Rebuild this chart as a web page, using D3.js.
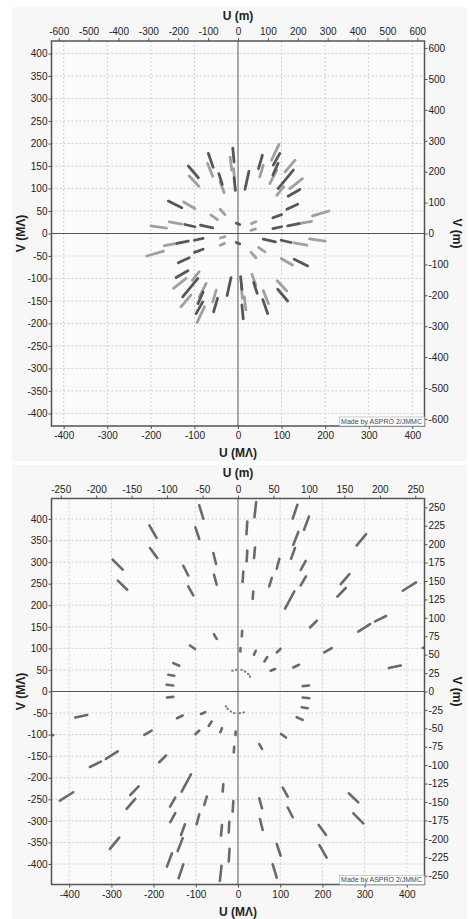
<!DOCTYPE html>
<html>
<head>
<meta charset="utf-8">
<script src="https://cdn.jsdelivr.net/npm/d3@7"></script>
<style>
  html, body { margin: 0; padding: 0; background: #fff; }
  svg { display: block; }
</style>
</head>
<body>
<svg id="chart" width="469" height="919"></svg>
<script>
// tick values, top panel
const topUmTicks = [-600, -500, -400, -300, -200, -100, 0, 100, 200, 300, 400, 500, 600]
const topVmTicks = [-600, -500, -400, -300, -200, -100, 0, 100, 200, 300, 400, 500, 600]
const topUmlTicks = [-400, -300, -200, -100, 0, 100, 200, 300, 400]
const topVmlTicks = [-400, -350, -300, -250, -200, -150, -100, -50, 0, 50, 100, 150, 200, 250, 300, 350, 400]

// tick values, bottom panel
const bottomUmTicks = [-250, -200, -150, -100, -50, 0, 50, 100, 150, 200, 250]
const bottomVmTicks = [-250, -225, -200, -175, -150, -125, -100, -75, -50, -25, 0, 25, 50, 75, 100, 125, 150, 175, 200, 225, 250]
const bottomUmlTicks = [-400, -300, -200, -100, 0, 100, 200, 300, 400]
const bottomVmlTicks = [-400, -350, -300, -250, -200, -150, -100, -50, 0, 50, 100, 150, 200, 250, 300, 350, 400]

// uv segments [u1, v1, u2, v2] in MΛ, one half of the plane.
// the conjugate baseline (-u, -v) is plotted as well, like ASPRO does
const topDarkSegments = [
  [-114, 150, -91, 124],
  [-68, 178, -57, 147],
  [-44, 133, -36, 109],
  [-12, 190, -9, 159],
  [-9, 124, -6, 96],
  [25, 138, 16, 98],
  [47, 144, 56, 174],
  [81, 152, 96, 178],
  [80, 130, 92, 156],
  [92, 100, 127, 141],
  [115, 83, 142, 98],
  [112, 54, 137, 65],
  [114, 17, 140, 22],
  [80, 35, 100, 42],
  [80, 11, 100, 15],
  [-4, 23, 4, 20],
  [-122, 20, -99, 15],
  [-86, 18.5, -58, 12.4],
  [-160, 72, -129, 57]
]

const topLightSegments = [
  [-112, 128, -90, 105],
  [-70, 156, -58, 127],
  [-41, 115, -32, 91],
  [-18, 170, -14.5, 141],
  [-10, 144, -7.6, 115],
  [50, 126, 58, 152],
  [77, 163, 94, 198],
  [73, 111, 89, 141],
  [108, 137, 131, 163],
  [89, 85, 105, 104],
  [119, 100, 148, 122],
  [171, 39, 209, 50],
  [140, 22, 169, 27],
  [31, 22, 41, 26],
  [30, 7, 40, 10],
  [-200, 17, -164, 12],
  [-158, 26, -129, 21],
  [-125, 70, -99, 55.5],
  [-62, 41, -47, 31],
  [-41, 54, -30, 42]
]

const bottomSegments = [
  [-91.8, 431.6, -82.3, 400.7],
  [-101, 380.5, -91.8, 353.6],
  [-210, 385, -193, 356],
  [-208.7, 332.7, -191.3, 309.5],
  [-297, 305.6, -273.4, 282.4],
  [-285, 257, -262.5, 236],
  [-58.5, 321, -52, 295.6],
  [-57, 270.8, -50.5, 247.6],
  [-129.7, 291.6, -117.9, 269],
  [-117.9, 243.6, -106, 222.7],
  [-57, 133, -50.5, 122],
  [-113.8, 106.7, -102, 98.4],
  [-153.4, 65.9, -139.2, 59.6],
  [-165.3, 38.7, -151, 36.4],
  [-169, 15.5, -153.4, 14],
  [43, 439, 39, 404],
  [140.7, 433, 129.7, 401],
  [168.4, 406, 156.5, 375],
  [22, 394, 20, 365],
  [143, 370, 131, 340],
  [135, 332.7, 125.7, 307.9],
  [22, 327, 20.5, 302],
  [40.3, 334, 38, 309.5],
  [98, 307.9, 91.8, 284.7],
  [160.5, 303, 148.7, 282],
  [12.6, 278.4, 11, 253.8],
  [80, 263, 74, 243.6],
  [161, 266.8, 148.7, 246],
  [36.3, 232, 34.8, 215],
  [133.5, 232, 111.5, 192],
  [303.5, 365, 281.5, 338.7],
  [264, 272, 243.5, 249],
  [255.4, 240, 235.5, 220],
  [422, 253, 390.5, 233.6],
  [186.6, 164, 170.7, 148.5],
  [351, 175, 325, 162.4],
  [313, 156.4, 285, 139],
  [10, 141, 9, 128],
  [222, 100.7, 204.7, 90.5],
  [101, 99, 91.8, 90.5],
  [6, 101, 5.5, 93],
  [42, 94.4, 38, 85],
  [69.5, 79.8, 62.4, 69.6],
  [385.8, 60.3, 357.4, 54.3],
  [144.6, 62, 131, 55.7],
  [87.7, 52, 77.5, 48],
  [168.4, 13.9, 153.4, 12.5],
  [438, 101, 470, 108]
]

// the short baselines close to the origin, drawn as dots
const bottomShortSegments = [
  [-14, 48, -12.5, 48.4],
  [-5, 50, -3.5, 50.2],
  [8, 50.4, 9.5, 50.1],
  [16, 46.6, 17.4, 45.9],
  [23.6, 41, 25, 40],
  [27.8, 35.4, 28.8, 34]
]

const fontFamily = '"Liberation Sans", Arial, Helvetica, sans-serif'
const svg = d3.select('#chart').attr('font-family', fontFamily)
const defs = svg.append('defs')

const panels = [
  {
    box: [12, 7, 455, 454],
    left: 51.5, right: 424.5, top: 41, bottom: 426,
    mlExtent: [428, 428], mExtent: [624, 623],
    uTitleY: 19.5, uBottomTitleY: 457,
    umTicks: topUmTicks, vmTicks: topVmTicks, umlTicks: topUmlTicks, vmlTicks: topVmlTicks,
    layers: [
      { data: topLightSegments, color: '#a0a0a0', width: 2.8 },
      { data: topDarkSegments, color: '#575757', width: 2.8 }
    ]
  },
  {
    box: [12, 465, 455, 454],
    left: 51.5, right: 424.5, top: 498.5, bottom: 884.5,
    mlExtent: [442, 447.5], mExtent: [263, 262],
    uTitleY: 477, uBottomTitleY: 916,
    umTicks: bottomUmTicks, vmTicks: bottomVmTicks, umlTicks: bottomUmlTicks, vmlTicks: bottomVmlTicks,
    layers: [
      { data: bottomSegments, color: '#6a6a6a', width: 2.6 },
      { data: bottomShortSegments, color: '#7a7a7a', width: 2 }
    ]
  }
]

function styleAxis (sel) {
  sel.attr('font-family', fontFamily).attr('font-size', 10)
  sel.select('.domain').remove()
  sel.selectAll('.tick line').attr('stroke', '#555')
  sel.selectAll('.tick text').attr('fill', '#222')
}

panels.forEach((p, i) => {
  const g = svg.append('g')
  const width = p.right - p.left
  const height = p.bottom - p.top
  const cy = (p.top + p.bottom) / 2
  const cx = (p.left + p.right) / 2

  g.append('rect')
    .attr('x', p.box[0]).attr('y', p.box[1])
    .attr('width', p.box[2]).attr('height', p.box[3])
    .attr('fill', '#f7f7f7')

  g.append('rect')
    .attr('x', p.left).attr('y', p.top)
    .attr('width', width).attr('height', height)
    .attr('fill', '#fbfbfb')

  const xMl = d3.scaleLinear().domain([-p.mlExtent[0], p.mlExtent[0]]).range([p.left, p.right])
  const yMl = d3.scaleLinear().domain([-p.mlExtent[1], p.mlExtent[1]]).range([p.bottom, p.top])
  const xM = d3.scaleLinear().domain([-p.mExtent[0], p.mExtent[0]]).range([p.left, p.right])
  const yM = d3.scaleLinear().domain([-p.mExtent[1], p.mExtent[1]]).range([p.bottom, p.top])

  // dotted grid on the MΛ ticks
  g.append('g')
    .selectAll('line')
    .data(p.umlTicks.filter(d => d !== 0))
    .join('line')
      .attr('x1', d => xMl(d)).attr('x2', d => xMl(d))
      .attr('y1', p.top).attr('y2', p.bottom)
      .attr('stroke', '#cfcfcf')
      .attr('stroke-dasharray', '2,2')
  g.append('g')
    .selectAll('line')
    .data(p.vmlTicks.filter(d => d !== 0))
    .join('line')
      .attr('y1', d => yMl(d)).attr('y2', d => yMl(d))
      .attr('x1', p.left).attr('x2', p.right)
      .attr('stroke', '#cfcfcf')
      .attr('stroke-dasharray', '2,2')

  // zero lines
  g.append('line')
    .attr('x1', xMl(0)).attr('x2', xMl(0))
    .attr('y1', p.top).attr('y2', p.bottom)
    .attr('stroke', '#555').attr('stroke-width', 1)
  g.append('line')
    .attr('y1', yMl(0)).attr('y2', yMl(0))
    .attr('x1', p.left).attr('x2', p.right)
    .attr('stroke', '#555').attr('stroke-width', 1)

  defs.append('clipPath').attr('id', `clip${i}`)
    .append('rect')
      .attr('x', p.left).attr('y', p.top)
      .attr('width', width).attr('height', height)

  const marks = g.append('g').attr('clip-path', `url(#clip${i})`)
  p.layers.forEach(layer => {
    const both = layer.data.flatMap(s => [s, s.map(d => -d)])
    marks.append('g')
      .selectAll('line')
      .data(both)
      .join('line')
        .attr('x1', d => xMl(d[0])).attr('y1', d => yMl(d[1]))
        .attr('x2', d => xMl(d[2])).attr('y2', d => yMl(d[3]))
        .attr('stroke', layer.color)
        .attr('stroke-width', layer.width)
        .attr('stroke-linecap', 'round')
  })

  // frame
  g.append('rect')
    .attr('x', p.left).attr('y', p.top)
    .attr('width', width).attr('height', height)
    .attr('fill', 'none')
    .attr('stroke', '#555')
    .attr('stroke-width', 1.5)

  const fmt = d => String(d)

  g.append('g')
    .attr('transform', `translate(0,${p.top})`)
    .call(d3.axisTop(xM).tickValues(p.umTicks).tickFormat(fmt).tickSizeOuter(0).tickSize(3).tickPadding(3))
    .call(styleAxis)
  g.append('g')
    .attr('transform', `translate(0,${p.bottom})`)
    .call(d3.axisBottom(xMl).tickValues(p.umlTicks).tickFormat(fmt).tickSizeOuter(0).tickSize(3).tickPadding(3))
    .call(styleAxis)
  g.append('g')
    .attr('transform', `translate(${p.left},0)`)
    .call(d3.axisLeft(yMl).tickValues(p.vmlTicks).tickFormat(fmt).tickSizeOuter(0).tickSize(3).tickPadding(1))
    .call(styleAxis)
  g.append('g')
    .attr('transform', `translate(${p.right},0)`)
    .call(d3.axisRight(yM).tickValues(p.vmTicks).tickFormat(fmt).tickSizeOuter(0).tickSize(3).tickPadding(1))
    .call(styleAxis)

  const title = (x, y, text, rotate) => g.append('text')
    .attr('transform', `translate(${x},${y})${rotate ? ` rotate(${rotate})` : ''}`)
    .attr('text-anchor', 'middle')
    .attr('font-size', 12)
    .attr('font-weight', 'bold')
    .attr('fill', '#222')
    .text(text)

  title(cx, p.uTitleY, 'U (m)')
  title(cx, p.uBottomTitleY, 'U (MΛ)')
  title(25, cy, 'V (MΛ)', -90)
  title(452.5, cy, 'V (m)', 90)

  // credit box in the lower right corner
  const credit = g.append('g')
  const txt = credit.append('text')
    .attr('x', p.right - 2.5)
    .attr('y', p.bottom - 2.5)
    .attr('text-anchor', 'end')
    .attr('font-size', 7)
    .attr('fill', '#444')
    .text('Made by ASPRO 2/JMMC')
  const bb = txt.node().getBBox()
  credit.insert('rect', 'text')
    .attr('x', bb.x - 1.5).attr('y', bb.y - 0.5)
    .attr('width', p.right - bb.x + 1.5).attr('height', p.bottom - bb.y + 0.5)
    .attr('fill', '#fff')
    .attr('stroke', '#aaa')
    .attr('stroke-width', 0.6)
})
</script>
</body>
</html>
